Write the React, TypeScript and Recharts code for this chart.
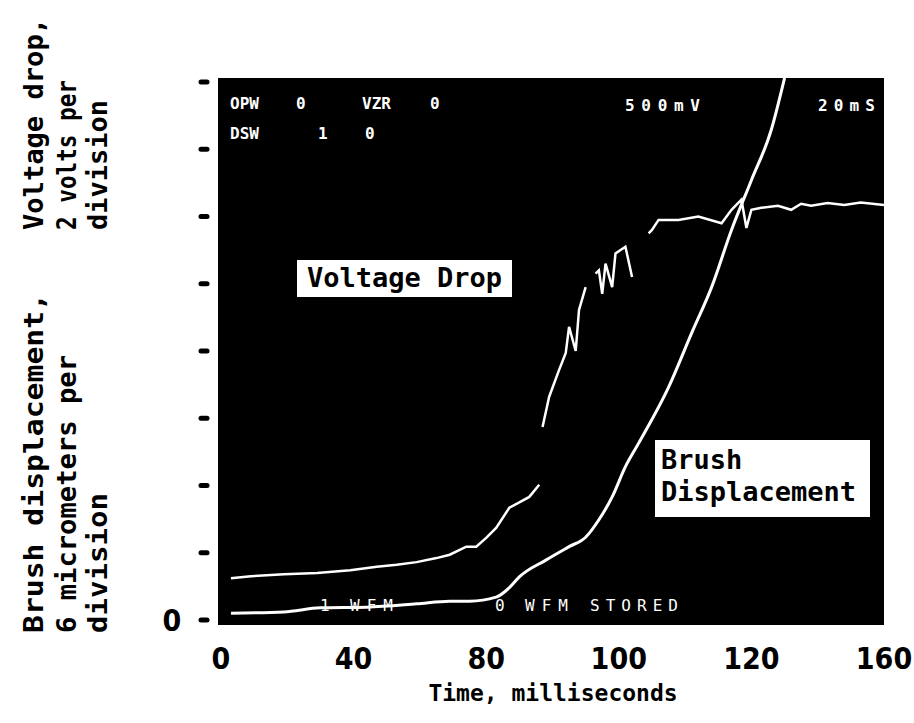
import { LineChart, Line, XAxis, YAxis, ReferenceArea } from "recharts";

// scope time (ms, 20 ms per division) vs. screen divisions (0-8)
const xTickValues = [0, 40, 80, 120, 160, 200];
const xTickLabels = ["0", "40", "80", "100", "120", "160"];
const yTickValues = [0, 1, 2, 3, 4, 5, 6, 7, 8];
const yTickLabels = ["0", "", "", "", "", "", "", "", ""];

const brushTime = [3, 19, 30, 44, 59, 69, 75, 83, 87, 90, 98, 105, 110, 114, 118, 122, 126, 135, 142, 148, 154, 160, 166, 170];
const brushDiv = [0.1, 0.12, 0.18, 0.19, 0.24, 0.28, 0.28, 0.34, 0.48, 0.64, 0.89, 1.09, 1.23, 1.49, 1.83, 2.28, 2.63, 3.46, 4.27, 4.95, 5.8, 6.54, 7.29, 8.06];

const voltTime = [
  3, 9, 19, 29, 39, 47, 53, 59, 65, 69, 74, 77, 80, 83, 87, 90, 93, 96, 96.5,
  97, 99, 102, 104, 105, 107, 108, 110, 111,
  113, 114, 115, 116, 118, 119, 122, 124, 126,
  129, 130, 132, 138, 144, 151, 154, 157, 158.5, 160, 163, 168, 172, 175, 178, 183, 188, 193, 200,
];
const voltDiv = [
  0.62, 0.65, 0.68, 0.7, 0.74, 0.79, 0.82, 0.86, 0.92, 0.97, 1.09, 1.09, 1.22, 1.37, 1.67, 1.75, 1.83, 2.01, null,
  2.87, 3.32, 3.72, 3.97, 4.36, 4.0, 4.61, 4.95, null,
  5.15, 5.2, 4.85, 5.3, 4.95, 5.45, 5.55, 5.1, null,
  5.75, 5.8, 5.95, 5.95, 6.0, 5.9, 6.1, 6.25, 5.83, 6.1, 6.13, 6.16, 6.1, 6.19, 6.16, 6.2, 6.17, 6.21, 6.17,
];

const brush = brushTime.map((t, i) => ({ t, v: brushDiv[i] }));
const volt = voltTime.map((t, i) => ({ t, v: voltDiv[i] }));

const mono = "'DejaVu Sans Mono', monospace";
const numFont = "'Liberation Sans Narrow', 'DejaVu Sans Condensed', 'DejaVu Sans', sans-serif";

const XTick = (props: any) => {
  const { x, y, payload } = props;
  const label = xTickLabels[xTickValues.indexOf(payload.value)];
  return (
    <text x={x} y={y + 44} textAnchor="middle" fontFamily={numFont} fontWeight="bold" fontSize={30} fill="#000">
      {label}
    </text>
  );
};

const YTick = (props: any) => {
  const { x, y, payload } = props;
  const label = yTickLabels[yTickValues.indexOf(payload.value)];
  return (
    <g>
      <line x1={x - 17} y1={y} x2={x - 11} y2={y} stroke="#000" strokeWidth={5} strokeLinecap="round" />
      {label && (
        <text x={x - 46} y={y + 11} textAnchor="middle" fontFamily={numFont} fontWeight="bold" fontSize={30} fill="#000">
          {label}
        </text>
      )}
    </g>
  );
};

const scopeText = { fontFamily: mono, fontSize: 16, fill: "#fff" } as const;

export default function App() {
  return (
    <div style={{ position: "absolute", left: 0, top: 0, width: 914, height: 723, background: "#fff" }}>
      <LineChart width={914} height={723} margin={{ top: 78, right: 30, bottom: 38, left: 158 }}>
        <XAxis
          type="number"
          dataKey="t"
          domain={[-0.9, 200]}
          ticks={xTickValues}
          tick={<XTick />}
          tickSize={0}
          tickMargin={0}
          tickLine={false}
          axisLine={false}
          height={60}
          allowDataOverflow
        />
        <YAxis
          type="number"
          domain={[-0.075, 8.06]}
          ticks={yTickValues}
          tick={<YTick />}
          tickSize={0}
          tickMargin={0}
          tickLine={false}
          axisLine={false}
          width={60}
          allowDataOverflow
        />
        <ReferenceArea x1={-0.9} x2={200} y1={-0.075} y2={8.06} fill="#000" fillOpacity={1} stroke="none" />
        <Line
          data={volt}
          dataKey="v"
          type="linear"
          stroke="#fff"
          strokeWidth={2.5}
          dot={false}
          connectNulls={false}
          isAnimationActive={false}
        />
        <Line
          data={brush}
          dataKey="v"
          type="monotone"
          stroke="#fff"
          strokeWidth={3}
          dot={false}
          isAnimationActive={false}
        />
      </LineChart>
      <svg width={914} height={723} style={{ position: "absolute", left: 0, top: 0, pointerEvents: "none" }}>
        {/* scope readout */}
        <g fontWeight="bold">
          <text x={230} y={109} {...scopeText}>OPW</text>
          <text x={296} y={109} {...scopeText}>0</text>
          <text x={362} y={109} {...scopeText}>VZR</text>
          <text x={430} y={109} {...scopeText}>0</text>
          <text x={230} y={139} {...scopeText}>DSW</text>
          <text x={318} y={139} {...scopeText}>1</text>
          <text x={365} y={139} {...scopeText}>0</text>
          <text x={625} y={111} {...scopeText} textLength={75}>500mV</text>
          <text x={818} y={111} {...scopeText} textLength={57}>20mS</text>
        </g>
        <text x={320} y={611} {...scopeText}>1</text>
        <text x={350} y={611} {...scopeText} textLength={43}>WFM</text>
        <text x={495} y={611} {...scopeText}>0</text>
        <text x={525} y={611} {...scopeText} textLength={43}>WFM</text>
        <text x={590} y={611} {...scopeText} textLength={88}>STORED</text>

        {/* trace labels */}
        <rect x={297} y={260} width={215} height={37} fill="#fff" />
        <text x={307} y={287} fontFamily={mono} fontWeight="bold" fontSize={27} fill="#000">Voltage Drop</text>
        <rect x={655} y={440} width={215} height={77} fill="#fff" />
        <text x={661} y={469} fontFamily={mono} fontWeight="bold" fontSize={27} fill="#000">Brush</text>
        <text x={661} y={501} fontFamily={mono} fontWeight="bold" fontSize={27} fill="#000">Displacement</text>

        {/* axis titles */}
        <g fontFamily={mono} fontWeight="bold" fontSize={26} fill="#000">
          <text transform="translate(43,230) rotate(-90)" textLength={212} lengthAdjust="spacingAndGlyphs">Voltage drop,</text>
          <text transform="translate(76,230) rotate(-90)" textLength={150} lengthAdjust="spacingAndGlyphs">2 volts per</text>
          <text transform="translate(107,230) rotate(-90)" textLength={130} lengthAdjust="spacingAndGlyphs">division</text>
          <text transform="translate(43,633) rotate(-90)" textLength={340} lengthAdjust="spacingAndGlyphs">Brush displacement,</text>
          <text transform="translate(76,633) rotate(-90)" textLength={278} lengthAdjust="spacingAndGlyphs">6 micrometers per</text>
          <text transform="translate(107,633) rotate(-90)" textLength={140} lengthAdjust="spacingAndGlyphs">division</text>
          <text x={553} y={701} textAnchor="middle" fontSize={23}>Time, milliseconds</text>
        </g>
      </svg>
    </div>
  );
}
